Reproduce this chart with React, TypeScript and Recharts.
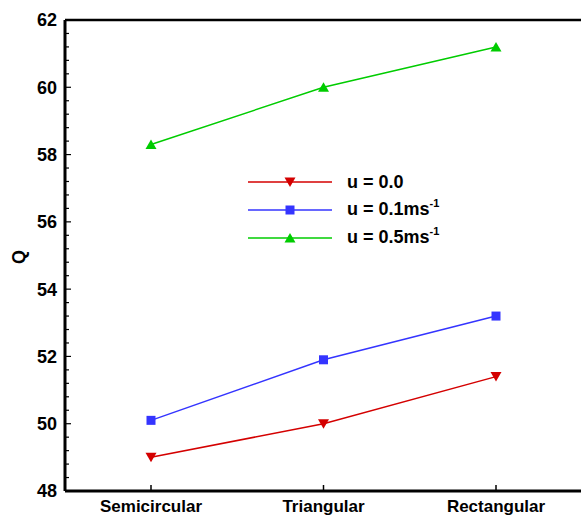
import React from 'react';
import { LineChart, Line, XAxis, YAxis, ReferenceLine, Legend } from 'recharts';

const categories = ['Semicircular', 'Triangular', 'Rectangular'];
const seriesU00 = [49.0, 50.0, 51.4];
const seriesU01 = [50.1, 51.9, 53.2];
const seriesU05 = [58.3, 60.0, 61.2];
const majorTicks = [48, 50, 52, 54, 56, 58, 60, 62];
const minorStep = 0.4;

const allTicks: number[] = [];
for (let i = 0; i <= Math.round((62 - 48) / minorStep); i++) {
  allTicks.push(Math.round((48 + i * minorStep) * 10) / 10);
}

const data = categories.map((c, i) => ({
  name: c,
  u00: seriesU00[i],
  u01: seriesU01[i],
  u05: seriesU05[i],
}));

const RED = '#d40000';
const BLUE = '#3434ff';
const GREEN = '#00cc00';
const FONT = '"Liberation Sans", Arial, sans-serif';

const DownTri = ({ cx, cy, color }: any) => (
  <path d={`M${cx - 5.5},${cy - 4.5} L${cx + 5.5},${cy - 4.5} L${cx},${cy + 5} Z`} fill={color} />
);
const UpTri = ({ cx, cy, color }: any) => (
  <path d={`M${cx - 5.5},${cy + 4.5} L${cx + 5.5},${cy + 4.5} L${cx},${cy - 5} Z`} fill={color} />
);
const Sq = ({ cx, cy, color }: any) => (
  <rect x={cx - 4.5} y={cy - 4.5} width={9} height={9} fill={color} />
);

const YTick = (props: any) => {
  const { x, y, payload } = props;
  const v = payload.value;
  const isMajor = majorTicks.some((m) => Math.abs(m - v) < 1e-6);
  return (
    <g>
      <line x1={x} x2={x + (isMajor ? 6 : 4)} y1={y} y2={y} stroke="#000" strokeWidth={1.2} />
      {isMajor && (
        <text x={x - 8} y={y} dy="0.36em" textAnchor="end" fontFamily={FONT} fontWeight="bold" fontSize={18} fill="#000">
          {v}
        </text>
      )}
    </g>
  );
};

const XTick = (props: any) => {
  const { x, y, payload } = props;
  return (
    <g>
      <line x1={x} x2={x} y1={y} y2={y - 6} stroke="#000" strokeWidth={1.5} />
      <text x={x} y={y + 21} textAnchor="middle" fontFamily={FONT} fontWeight="bold" fontSize={17} fill="#000">
        {payload.value}
      </text>
    </g>
  );
};

const legendItems = [
  { label: 'u = 0.0', sup: '', color: RED, shape: 'down' },
  { label: 'u = 0.1ms', sup: '-1', color: BLUE, shape: 'sq' },
  { label: 'u = 0.5ms', sup: '-1', color: GREEN, shape: 'up' },
];

const LegendContent = () => (
  <div style={{ fontFamily: FONT, fontWeight: 'bold', fontSize: 18 }}>
    {legendItems.map((it, i) => (
      <div key={i} style={{ display: 'flex', alignItems: 'center', height: 28 }}>
        <svg width={86} height={14} style={{ display: 'block' }}>
          <line x1={0} x2={84} y1={7} y2={7} stroke={it.color} strokeWidth={1.5} />
          {it.shape === 'down' && <DownTri cx={42} cy={7} color={it.color} />}
          {it.shape === 'sq' && <Sq cx={42} cy={7} color={it.color} />}
          {it.shape === 'up' && <UpTri cx={42} cy={7} color={it.color} />}
        </svg>
        <span style={{ marginLeft: 13, whiteSpace: 'nowrap', lineHeight: '18px' }}>
          {it.label}
          {it.sup && <span style={{ fontSize: 11, position: 'relative', top: -8 }}>{it.sup}</span>}
        </span>
      </div>
    ))}
  </div>
);

export default function App() {
  return (
    <div style={{ position: 'absolute', left: 0, top: 0, width: 581, height: 516, overflow: 'hidden', background: '#fff' }}>
      <LineChart width={600} height={516} data={data} margin={{ top: 20, right: 18, bottom: 0, left: 5 }}>
        <XAxis
          dataKey="name"
          type="category"
          padding={{ left: 86, right: 86 }}
          height={25}
          tickSize={0}
          tickMargin={0}
          tick={<XTick />}
          axisLine={{ stroke: '#000', strokeWidth: 3 }}
          tickLine={false}
          interval={0}
        />
        <YAxis
          type="number"
          domain={[48, 62]}
          ticks={allTicks}
          width={60}
          tickSize={0}
          tickMargin={0}
          tick={<YTick />}
          axisLine={{ stroke: '#000', strokeWidth: 3 }}
          tickLine={false}
          interval={0}
          allowDataOverflow
        />
        <ReferenceLine y={62} stroke="#000" strokeWidth={2.5} ifOverflow="visible" />
        <Legend
          layout="vertical"
          align="center"
          verticalAlign="middle"
          content={<LegendContent />}
          wrapperStyle={{ position: 'absolute', left: 248, top: 168, width: 220, bottom: 'auto', right: 'auto' }}
        />
        <Line dataKey="u00" stroke={RED} strokeWidth={1.5} isAnimationActive={false} dot={(p: any) => <DownTri key={p.index} cx={p.cx} cy={p.cy} color={RED} />} />
        <Line dataKey="u01" stroke={BLUE} strokeWidth={1.5} isAnimationActive={false} dot={(p: any) => <Sq key={p.index} cx={p.cx} cy={p.cy} color={BLUE} />} />
        <Line dataKey="u05" stroke={GREEN} strokeWidth={1.5} isAnimationActive={false} dot={(p: any) => <UpTri key={p.index} cx={p.cx} cy={p.cy} color={GREEN} />} />
      </LineChart>
      <div style={{ position: 'absolute', left: 12, top: 248, fontFamily: FONT, fontWeight: 'bold', fontSize: 18, transform: 'rotate(-90deg)', transformOrigin: 'center', lineHeight: '18px' }}>
        Q
      </div>
    </div>
  );
}
